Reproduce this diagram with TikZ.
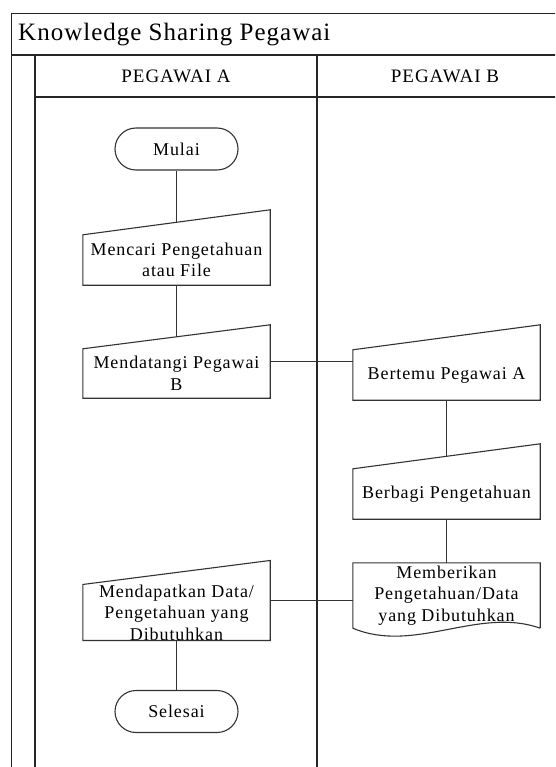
\documentclass[tikz,border=0pt]{standalone}
\usepackage{fontspec}
\setmainfont{Liberation Serif}[LetterSpace=5]
\usetikzlibrary{calc}

\tikzset{
  lane/.style={black!85, line width=1.3pt},
  box/.style={black!80, line width=1.1pt},
  flowtext/.style={align=center, inner sep=0pt, font=\fontsize{18}{21.5}\selectfont},
  terminal/.style={draw=black!80, line width=1.1pt, rounded corners=21pt, minimum width=123pt, minimum height=42pt, flowtext},
  inbox/.style={minimum width=187pt, flowtext},
}

\newcommand{\manualbox}[2]{%
  \draw[box] (#1.south west) -- (#1.south east) -- ($(#1.north east)+(0,#2)$) -- (#1.north west) -- cycle;
  \coordinate (#1-top) at ($(#1.north)+(0,#2/2)$);
  \coordinate (#1-mid) at ($(#1.center)+(0,#2/2)$);
}

\begin{document}
\begin{tikzpicture}[x=1pt,y=1pt]
\useasboundingbox (0,0) rectangle (555,-767);
\clip (0,0) rectangle (555,-767);

\draw[lane] (570,-13.5) -- (11.5,-13.5) -- (11.5,-770);
\draw[lane] (11.5,-55) -- (570,-55);
\draw[lane] (35,-55) -- (35,-770);
\draw[lane] (35,-97) -- (570,-97);
\draw[lane] (317,-55) -- (317,-770);

\node[anchor=west, inner sep=0pt, font=\fontsize{25}{29}\selectfont\addfontfeature{LetterSpace=4}] (title) at (18,-35) {Knowledge Sharing Pegawai};
\node[inner sep=0pt, font=\fontsize{19}{22}\selectfont] (laneA) at (176,-76) {PEGAWAI A};
\node[inner sep=0pt, font=\fontsize{19}{22}\selectfont] (laneB) at (445,-76) {PEGAWAI B};

\node[terminal] (mulai) at (176.5,-149) {Mulai};

\node[inbox, minimum height=50pt] (cari) at (176.5,-260) {Mencari Pengetahuan\\atau File};
\manualbox{cari}{25}

\node[inbox, minimum height=49pt] (datang) at (176.5,-373.5) {Mendatangi Pegawai\\B};
\manualbox{datang}{24}

\node[inbox, minimum height=50pt] (temu) at (446.5,-375) {Bertemu Pegawai A};
\manualbox{temu}{25}

\node[inbox, minimum height=50pt] (bagi) at (446.5,-494) {Berbagi Pengetahuan};
\manualbox{bagi}{25}

\node[inbox, minimum height=65pt] (beri) at (446.5,-595.5) {Memberikan\\Pengetahuan/Data\\yang Dibutuhkan};
\draw[box] (beri.south east) -- (beri.north east) -- (beri.north west) -- (beri.south west)
  .. controls +(62,-26) and +(-62,22) .. (beri.south east);

\node[inbox, minimum height=51pt] (dapat) at (176.5,-612.5) {Mendapatkan Data/\\Pengetahuan yang\\Dibutuhkan};
\manualbox{dapat}{24}

\node[terminal] (selesai) at (176.5,-711.5) {Selesai};

\draw[box] (mulai) -- (cari-top);
\draw[box] (cari) -- (datang-top);
\draw[box] (datang-mid -| datang.east) -- (datang-mid -| temu.west);
\draw[box] (temu) -- (bagi-top);
\draw[box] (bagi) -- (beri);
\draw[box] (dapat-mid -| beri.west) -- (dapat-mid -| dapat.east);
\draw[box] (dapat) -- (selesai);

\end{tikzpicture}
\end{document}
